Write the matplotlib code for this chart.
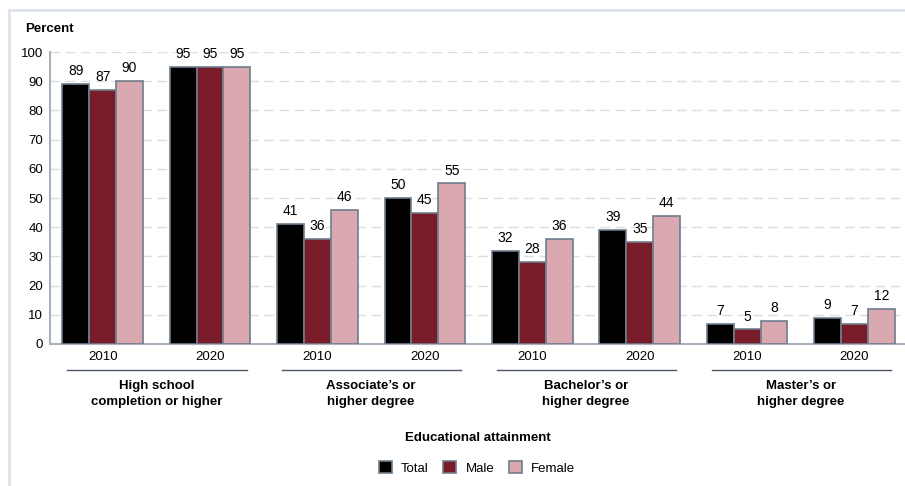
import matplotlib.pyplot as plt
import matplotlib.transforms as mtransforms
from matplotlib.patches import Rectangle
import numpy as np

# Datos
years = ["2010", "2020"] * 4
groups = ["High school\ncompletion or higher", "Associate\u2019s or\nhigher degree",
          "Bachelor\u2019s or\nhigher degree", "Master\u2019s or\nhigher degree"]
total = [89, 95, 41, 50, 32, 39, 7, 9]
male = [87, 95, 36, 45, 28, 35, 5, 7]
female = [90, 95, 46, 55, 36, 44, 8, 12]

series = [("Total", total, "#000000"), ("Male", male, "#7A1B29"), ("Female", female, "#D9A8B0")]
edge = "#6F7D8C"

plt.rcParams["font.family"] = ["Liberation Sans", "DejaVu Sans"]

fig = plt.figure(figsize=(9.05, 4.86), dpi=100)
fig.patches.append(Rectangle((9 / 905, -0.1), 1.2, 1 - 10 / 486 + 0.1, transform=fig.transFigure,
                             fill=False, edgecolor="#DDE3EA", linewidth=2, zorder=0))

ax = fig.add_axes([50 / 905, 1 - 344 / 486, 1 - 50 / 905, 292 / 486])
x = np.arange(len(years))
w = 0.25
for i, (name, vals, col) in enumerate(series):
    pos = x + (i - 1) * w
    ax.bar(pos, vals, width=w, color=col, edgecolor=edge, linewidth=1.2, label=name, zorder=3)
    for p, v in zip(pos, vals):
        ax.text(p, v + 2, str(v), ha="center", va="bottom", fontsize=10)

ax.set_ylim(0, 100)
ax.set_xlim(-0.49, 7.47)
ax.set_yticks(range(0, 101, 10))
ax.yaxis.grid(True, color="#DDDDDD", linestyle=(0, (7, 4)), linewidth=1, zorder=0)
ax.set_xticks(x)
ax.set_xticklabels(years, fontsize=9.5)
ax.tick_params(axis="x", length=0, pad=5)
ax.tick_params(axis="y", length=0, pad=5, labelsize=9.5)
for s in ["top", "right"]:
    ax.spines[s].set_visible(False)
for s in ["left", "bottom"]:
    ax.spines[s].set_color("#A8B2BC")
    ax.spines[s].set_linewidth(1.5)

trans = mtransforms.blended_transform_factory(ax.transData, ax.transAxes)
for g, label in enumerate(groups):
    c0 = 2 * g
    ax.plot([c0 - 0.33, c0 + 1.34], [-0.089, -0.089], color="#4A5468", linewidth=1,
            transform=trans, clip_on=False)
    ax.text(c0 + 0.5, -0.17, label, transform=trans, ha="center", va="center",
            fontsize=9.5, fontweight="bold", linespacing=1.45)

fig.text(25 / 905, 1 - 29 / 486, "Percent", fontsize=9.5, fontweight="bold", va="center")
fig.text(478 / 905, 1 - 438 / 486, "Educational attainment", fontsize=9.5, fontweight="bold",
         ha="center", va="center")
fig.legend(loc="center", bbox_to_anchor=(477 / 905, 1 - 468 / 486), ncol=3, frameon=False,
           fontsize=9.5, handlelength=1, handleheight=1, handletextpad=0.7, columnspacing=1.1)

plt.savefig("out.png", dpi=100)
